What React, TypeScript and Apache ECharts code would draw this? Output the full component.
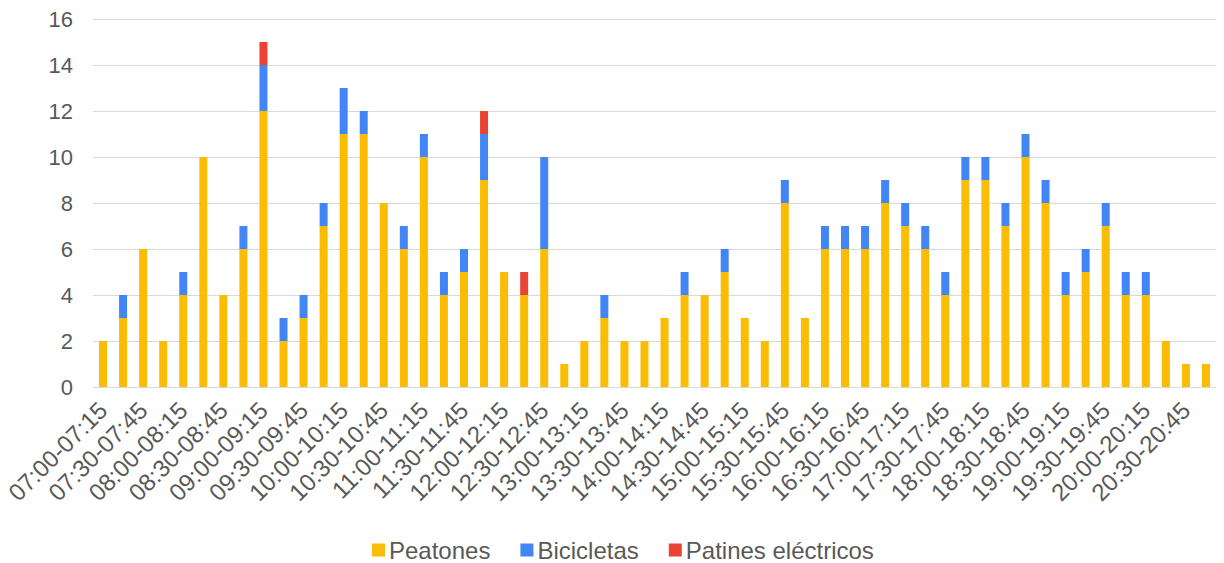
import React, { useEffect, useRef } from "react";
import * as echarts from "echarts";

const categories = [
  "07:00-07:15","07:15-07:30","07:30-07:45","07:45-08:00",
  "08:00-08:15","08:15-08:30","08:30-08:45","08:45-09:00",
  "09:00-09:15","09:15-09:30","09:30-09:45","09:45-10:00",
  "10:00-10:15","10:15-10:30","10:30-10:45","10:45-11:00",
  "11:00-11:15","11:15-11:30","11:30-11:45","11:45-12:00",
  "12:00-12:15","12:15-12:30","12:30-12:45","12:45-13:00",
  "13:00-13:15","13:15-13:30","13:30-13:45","13:45-14:00",
  "14:00-14:15","14:15-14:30","14:30-14:45","14:45-15:00",
  "15:00-15:15","15:15-15:30","15:30-15:45","15:45-16:00",
  "16:00-16:15","16:15-16:30","16:30-16:45","16:45-17:00",
  "17:00-17:15","17:15-17:30","17:30-17:45","17:45-18:00",
  "18:00-18:15","18:15-18:30","18:30-18:45","18:45-19:00",
  "19:00-19:15","19:15-19:30","19:30-19:45","19:45-20:00",
  "20:00-20:15","20:15-20:30","20:30-20:45","20:45-21:00",
];

const peatones = [
  2,3,6,2,4,10,4,6,12,2,3,7,11,11,8,6,10,4,5,9,5,4,6,1,2,3,2,2,
  3,4,4,5,3,2,8,3,6,6,6,8,7,6,4,9,9,7,10,8,4,5,7,4,4,2,1,1,
];
const bicicletas = [
  0,1,0,0,1,0,0,1,2,1,1,1,2,1,0,1,1,1,1,2,0,0,4,0,0,1,0,0,
  0,1,0,1,0,0,1,0,1,1,1,1,1,1,1,1,1,1,1,1,1,1,1,1,1,0,0,0,
];
const patines = [
  0,0,0,0,0,0,0,0,1,0,0,0,0,0,0,0,0,0,0,1,0,1,0,0,0,0,0,0,
  0,0,0,0,0,0,0,0,0,0,0,0,0,0,0,0,0,0,0,0,0,0,0,0,0,0,0,0,
];

const FONT = "'Liberation Sans', Arial, sans-serif";
const TEXT = "#595959";

export default function App() {
  const ref = useRef<HTMLDivElement>(null);
  useEffect(() => {
    if (!ref.current) return;
    const chart = echarts.init(ref.current, undefined, { renderer: "svg" });
    const mk = (name: string, data: number[], color: string) => ({
      name,
      type: "bar",
      stack: "total",
      data,
      barWidth: 8,
      itemStyle: { color },
      emphasis: { disabled: true },
    });
    chart.setOption({
      animation: false,
      textStyle: { fontFamily: FONT },
      grid: { left: 93, right: 8, top: 19, bottom: 176, containLabel: false },
      legend: {
        top: 538,
        left: 372,
        itemWidth: 13,
        itemHeight: 13,
        itemGap: 30,
        icon: "rect",
        padding: 0,
        textStyle: { color: TEXT, fontSize: 24, fontFamily: FONT, padding: [0, 0, 0, -1] },
        data: ["Peatones", "Bicicletas", "Patines eléctricos"],
      },
      xAxis: {
        type: "category",
        data: categories,
        axisTick: { show: false },
        axisLine: { lineStyle: { color: "#d9d9d9", width: 1 } },
        axisLabel: {
          interval: 1,
          rotate: 45,
          color: TEXT,
          fontSize: 24,
          fontFamily: FONT,
          margin: 19,
        },
      },
      yAxis: {
        type: "value",
        min: 0,
        max: 16,
        interval: 2,
        axisLine: { show: false },
        axisTick: { show: false },
        splitLine: { lineStyle: { color: "#d9d9d9", width: 1 } },
        axisLabel: { color: TEXT, fontSize: 22, fontFamily: FONT, margin: 20 },
      },
      series: [
        mk("Peatones", peatones, "#FBBC04"),
        mk("Bicicletas", bicicletas, "#4285F4"),
        mk("Patines eléctricos", patines, "#EA4335"),
      ],
    });
    return () => chart.dispose();
  }, []);
  return <div ref={ref} style={{ width: 1224, height: 563, position: "absolute", left: 0, top: 0 }} />;
}
